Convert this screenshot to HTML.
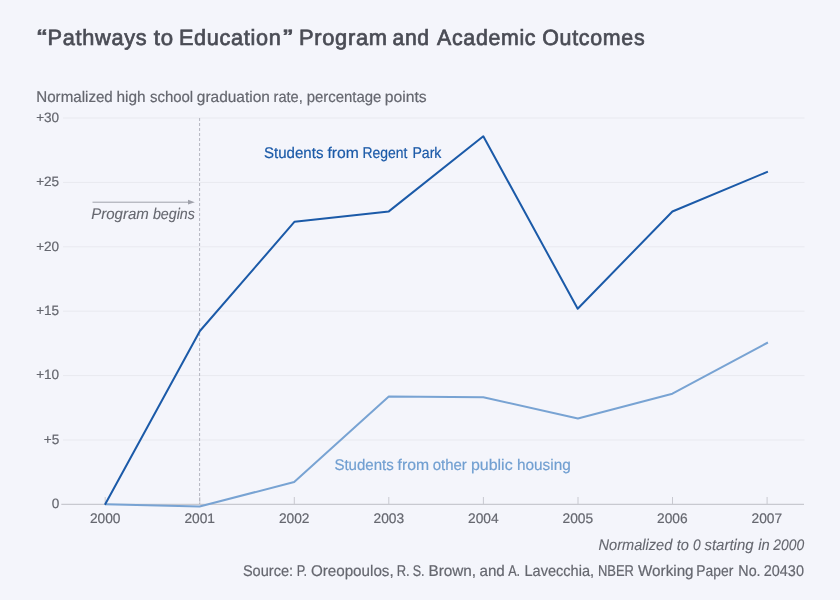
<!DOCTYPE html>
<html lang="en"><head><meta charset="utf-8">
<title>“Pathways to Education” Program and Academic Outcomes</title>
<style>
html,body{margin:0;padding:0;background:#f4f5fb;}
body{width:840px;height:600px;overflow:hidden;}
svg{display:block;font-family:"Liberation Sans",sans-serif;}
</style></head><body>
<svg width="840" height="600" viewBox="0 0 840 600" text-rendering="geometricPrecision">
<rect width="840" height="600" fill="#f4f5fb"/>
<text id="title" y="45" font-size="22" fill="#4a4c55" stroke="#4a4c55" stroke-width="0.7" letter-spacing="0.7"><tspan x="37.06" textLength="10.84" lengthAdjust="spacingAndGlyphs">“</tspan><tspan x="47.6" textLength="99.74" lengthAdjust="spacingAndGlyphs">Pathways</tspan> <tspan x="153.83" textLength="19.94" lengthAdjust="spacingAndGlyphs">to</tspan> <tspan x="178.91" textLength="102.52" lengthAdjust="spacingAndGlyphs">Education</tspan><tspan x="282.98" textLength="10.61" lengthAdjust="spacingAndGlyphs">”</tspan> <tspan x="298.98" textLength="88.78" lengthAdjust="spacingAndGlyphs">Program</tspan> <tspan x="392.5" textLength="37.3" lengthAdjust="spacingAndGlyphs">and</tspan> <tspan x="437.09" textLength="99.11" lengthAdjust="spacingAndGlyphs">Academic</tspan> <tspan x="542.29" textLength="102.98" lengthAdjust="spacingAndGlyphs">Outcomes</tspan></text>
<text id="sub" y="102" font-size="15.5" fill="#65676f" stroke="#65676f" stroke-width="0.2"><tspan x="36.25" textLength="76.54" lengthAdjust="spacingAndGlyphs">Normalized</tspan> <tspan x="116.46" textLength="29.13" lengthAdjust="spacingAndGlyphs">high</tspan> <tspan x="149.91" textLength="43.28" lengthAdjust="spacingAndGlyphs">school</tspan> <tspan x="196.79" textLength="73.13" lengthAdjust="spacingAndGlyphs">graduation</tspan> <tspan x="273.52" textLength="29.23" lengthAdjust="spacingAndGlyphs">rate,</tspan> <tspan x="306.71" textLength="74.68" lengthAdjust="spacingAndGlyphs">percentage</tspan> <tspan x="384.79" textLength="41.92" lengthAdjust="spacingAndGlyphs">points</tspan></text>
<g stroke="#e8e9ef" stroke-width="1">
<line x1="63" x2="804.5" y1="118.0" y2="118.0"/>
<line x1="63" x2="804.5" y1="182.4" y2="182.4"/>
<line x1="63" x2="804.5" y1="246.8" y2="246.8"/>
<line x1="63" x2="804.5" y1="311.2" y2="311.2"/>
<line x1="63" x2="804.5" y1="375.6" y2="375.6"/>
<line x1="63" x2="804.5" y1="440.0" y2="440.0"/>
</g>
<line x1="61.3" x2="804" y1="504.4" y2="504.4" stroke="#c8c9d0" stroke-width="1.3"/>
<g stroke="#c8c9d0" stroke-width="1">
<line x1="105.2" x2="105.2" y1="497" y2="504"/>
<line x1="199.8" x2="199.8" y1="497" y2="504"/>
<line x1="294.3" x2="294.3" y1="497" y2="504"/>
<line x1="388.8" x2="388.8" y1="497" y2="504"/>
<line x1="483.4" x2="483.4" y1="497" y2="504"/>
<line x1="578.0" x2="578.0" y1="497" y2="504"/>
<line x1="672.5" x2="672.5" y1="497" y2="504"/>
<line x1="767.1" x2="767.1" y1="497" y2="504"/>
</g>
<line x1="199.6" x2="199.6" y1="118" y2="504" stroke="#b4b6bf" stroke-width="1" stroke-dasharray="3,2"/>
<g font-size="13.6" fill="#65676f" stroke="#65676f" stroke-width="0.2" text-anchor="end">
<text x="59.2" y="121.8">+30</text>
<text x="59.2" y="186.2">+25</text>
<text x="59.2" y="250.6">+20</text>
<text x="59.2" y="315.0">+15</text>
<text x="59.2" y="379.4">+10</text>
<text x="59.2" y="443.8">+5</text>
<text x="59.2" y="508.2">0</text>
</g>
<g font-size="13.8" fill="#65676f" stroke="#65676f" stroke-width="0.2" text-anchor="middle">
<text x="105.2" y="523.4" textLength="30.6" lengthAdjust="spacingAndGlyphs">2000</text>
<text x="199.7" y="523.4" textLength="30.6" lengthAdjust="spacingAndGlyphs">2001</text>
<text x="294.2" y="523.4" textLength="30.6" lengthAdjust="spacingAndGlyphs">2002</text>
<text x="388.8" y="523.4" textLength="30.6" lengthAdjust="spacingAndGlyphs">2003</text>
<text x="483.3" y="523.4" textLength="30.6" lengthAdjust="spacingAndGlyphs">2004</text>
<text x="577.8" y="523.4" textLength="30.6" lengthAdjust="spacingAndGlyphs">2005</text>
<text x="672.3" y="523.4" textLength="30.6" lengthAdjust="spacingAndGlyphs">2006</text>
<text x="766.8" y="523.4" textLength="30.6" lengthAdjust="spacingAndGlyphs">2007</text>
</g>
<polyline fill="none" stroke="#78a3d3" stroke-width="2" stroke-linejoin="round" points="105,504.3 199.6,506.5 294.2,482 388.8,396.5 483.3,397.3 577.9,418.5 672.4,393.7 767.9,342.5"/>
<polyline fill="none" stroke="#1b5aa8" stroke-width="2" stroke-linejoin="round" points="104.9,504.8 199.9,331 294.6,221.7 388.8,211.4 483.3,136.3 577.7,308.7 672.4,211.5 767.9,171.6"/>
<text id="l1" y="158" font-size="15.5" fill="#1b5aa8" stroke="#1b5aa8" stroke-width="0.2"><tspan x="264.04" textLength="59.37" lengthAdjust="spacingAndGlyphs">Students</tspan> <tspan x="327.41" textLength="31.36" lengthAdjust="spacingAndGlyphs">from</tspan> <tspan x="362.48" textLength="44.85" lengthAdjust="spacingAndGlyphs">Regent</tspan> <tspan x="412.42" textLength="29.0" lengthAdjust="spacingAndGlyphs">Park</tspan></text>
<text id="l2" y="470" font-size="15.5" fill="#719fd1" stroke="#719fd1" stroke-width="0.2"><tspan x="334.39" textLength="59.39" lengthAdjust="spacingAndGlyphs">Students</tspan> <tspan x="397.53" textLength="31.47" lengthAdjust="spacingAndGlyphs">from</tspan> <tspan x="432.69" textLength="34.1" lengthAdjust="spacingAndGlyphs">other</tspan> <tspan x="470.98" textLength="41.67" lengthAdjust="spacingAndGlyphs">public</tspan> <tspan x="516.99" textLength="53.76" lengthAdjust="spacingAndGlyphs">housing</tspan></text>
<line x1="92.5" x2="190" y1="202.2" y2="202.2" stroke="#9fa1aa" stroke-width="1"/>
<path d="M188,199.8 L194.8,202.2 L188,204.6 Z" fill="#9fa1aa"/>
<text id="pb" y="219" font-size="15.4" font-style="italic" fill="#65676f" stroke="#65676f" stroke-width="0.1"><tspan x="91.18" textLength="57.59" lengthAdjust="spacingAndGlyphs">Program</tspan> <tspan x="152.89" textLength="42.01" lengthAdjust="spacingAndGlyphs">begins</tspan></text>
<text id="nz" y="550" font-size="15.4" font-style="italic" fill="#65676f" stroke="#65676f" stroke-width="0.1"><tspan x="598.55" textLength="73.74" lengthAdjust="spacingAndGlyphs">Normalized</tspan> <tspan x="676.66" textLength="12.17" lengthAdjust="spacingAndGlyphs">to</tspan> <tspan x="692.95" textLength="7.65" lengthAdjust="spacingAndGlyphs">0</tspan> <tspan x="704.42" textLength="49.16" lengthAdjust="spacingAndGlyphs">starting</tspan> <tspan x="758.18" textLength="11.5" lengthAdjust="spacingAndGlyphs">in</tspan> <tspan x="773.36" textLength="30.82" lengthAdjust="spacingAndGlyphs">2000</tspan></text>
<text id="src" y="576" font-size="15.5" fill="#65676f" stroke="#65676f" stroke-width="0.2"><tspan x="242.89" textLength="50.21" lengthAdjust="spacingAndGlyphs">Source:</tspan> <tspan x="296.67" textLength="10.46" lengthAdjust="spacingAndGlyphs">P.</tspan> <tspan x="310.88" textLength="82.82" lengthAdjust="spacingAndGlyphs">Oreopoulos,</tspan> <tspan x="396.66" textLength="12.97" lengthAdjust="spacingAndGlyphs">R.</tspan> <tspan x="412.66" textLength="11.88" lengthAdjust="spacingAndGlyphs">S.</tspan> <tspan x="428.52" textLength="47.61" lengthAdjust="spacingAndGlyphs">Brown,</tspan> <tspan x="479.45" textLength="25.35" lengthAdjust="spacingAndGlyphs">and</tspan> <tspan x="508.19" textLength="11.91" lengthAdjust="spacingAndGlyphs">A.</tspan> <tspan x="524.52" textLength="69.55" lengthAdjust="spacingAndGlyphs">Lavecchia,</tspan> <tspan x="597.94" textLength="36.05" lengthAdjust="spacingAndGlyphs">NBER</tspan> <tspan x="638.03" textLength="55.58" lengthAdjust="spacingAndGlyphs">Working</tspan> <tspan x="696.32" textLength="37.01" lengthAdjust="spacingAndGlyphs">Paper</tspan> <tspan x="738.34" textLength="22.23" lengthAdjust="spacingAndGlyphs">No.</tspan> <tspan x="763.8" textLength="40.12" lengthAdjust="spacingAndGlyphs">20430</tspan></text>
</svg>
</body></html>
